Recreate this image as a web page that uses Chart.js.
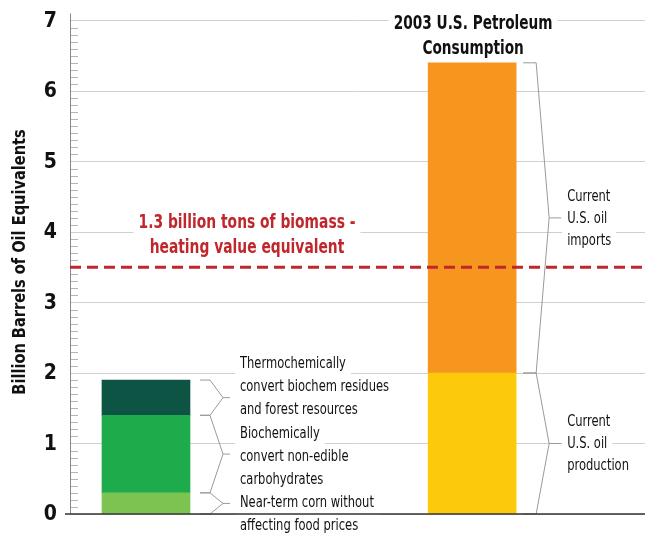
<!DOCTYPE html>
<html>
<head>
<meta charset="utf-8">
<script src="https://cdn.jsdelivr.net/npm/chart.js@4"></script>
<style>
  html, body { margin: 0; padding: 0; background: #fff; }
  #wrap { width: 649px; height: 536px; }
</style>
</head>
<body>
<div id="wrap"><canvas id="c" width="649" height="536"></canvas></div>
<script>
// ---- data ----
const categories = ['Biomass', '2003 U.S. Petroleum Consumption'];
const biomassSegments = ['Near-term corn without affecting food prices', 'Biochemically convert non-edible carbohydrates', 'Thermochemically convert biochem residues and forest resources'];
const biomassValues = [0.3, 1.1, 0.5];
const petroleumSegments = ['Current U.S. oil production', 'Current U.S. oil imports'];
const petroleumValues = [2.0, 4.4];
const yTickValues = [0, 1, 2, 3, 4, 5, 6, 7];
const biomassLineValue = 3.5;
const biomassLineLabel = ['1.3 billion tons of biomass -', 'heating value equivalent'];
const titleLines = ['2003 U.S. Petroleum', 'Consumption'];
const yAxisTitle = 'Billion Barrels of Oil Equivalents';

const biomassColors = ['#7dc352', '#1eab4b', '#0e5444'];
const petroleumColors = ['#fdca0b', '#f7961f'];

const FONT = "'Liberation Sans Narrow', 'DejaVu Sans Condensed', 'Arial Narrow', sans-serif";

const datasets = [];
biomassValues.forEach((v, i) => datasets.push({
  label: biomassSegments[i], data: [{x: 1, y: v}], backgroundColor: biomassColors[i]
}));
petroleumValues.forEach((v, i) => datasets.push({
  label: petroleumSegments[i], data: [{x: 2, y: v}], backgroundColor: petroleumColors[i]
}));

function textBox(ctx, lines, x, yCenter, lh, font, color, align, sx) {
  ctx.save();
  ctx.font = font;
  ctx.textBaseline = 'middle';
  ctx.textAlign = 'left';
  const top = yCenter - (lines.length - 1) * lh / 2;
  const items = lines.map((t, i) => {
    const w = ctx.measureText(t).width * sx;
    const x0 = align === 'center' ? x - w / 2 : (align === 'left' ? x : x - w);
    return { t, w, x0, y: top + i * lh };
  });
  ctx.fillStyle = '#fff';
  items.forEach(it => ctx.fillRect(it.x0 - 5, it.y - lh / 2, it.w + 10, lh));
  ctx.fillStyle = color;
  items.forEach(it => {
    ctx.save();
    ctx.translate(it.x0, it.y);
    ctx.scale(sx, 1);
    ctx.fillText(it.t, 0, 0);
    ctx.restore();
  });
  ctx.restore();
}

function brace(ctx, xs, xh, xt, xtick, yTop, yBot) {
  const ym = (yTop + yBot) / 2;
  ctx.beginPath();
  ctx.moveTo(xs, yTop); ctx.lineTo(xh, yTop);
  ctx.lineTo(xt, ym); ctx.lineTo(xh, yBot); ctx.lineTo(xs, yBot);
  ctx.moveTo(xt, ym); ctx.lineTo(xtick, ym);
  ctx.stroke();
}

const overlay = {
  id: 'overlay',
  afterDatasetsDraw(chart) {
    const ctx = chart.ctx;
    const y = chart.scales.y;
    const area = chart.chartArea;
    const P = v => y.getPixelForValue(v);

    // minor ticks on the y axis
    ctx.save();
    ctx.strokeStyle = '#b5b5b5';
    ctx.lineWidth = 1;
    for (let k = 0; k <= 70; k++) {
      if (k % 10 === 0) continue;
      const py = Math.round(P(k / 10)) + 0.5;
      ctx.beginPath();
      ctx.moveTo(area.left, py); ctx.lineTo(area.left + 8, py);
      ctx.stroke();
    }
    ctx.strokeStyle = '#888';
    ctx.beginPath();
    ctx.moveTo(area.left + 0.5, area.top - 7); ctx.lineTo(area.left + 0.5, area.bottom);
    ctx.stroke();
    ctx.restore();

    // y tick labels
    ctx.save();
    ctx.font = "bold 21px " + FONT;
    ctx.fillStyle = '#111';
    ctx.textAlign = 'right';
    ctx.textBaseline = 'middle';
    yTickValues.forEach(v => ctx.fillText(String(v), area.left - 13, P(v) + 1));
    ctx.restore();

    // y axis title
    ctx.save();
    ctx.translate(20, 262);
    ctx.rotate(-Math.PI / 2);
    ctx.font = "bold 18px " + FONT;
    ctx.fillStyle = '#111';
    ctx.textAlign = 'center';
    ctx.textBaseline = 'middle';
    ctx.scale(0.9, 1);
    ctx.fillText(yAxisTitle, 0, 0);
    ctx.restore();

    const leftEl = chart.getDatasetMeta(0).data[0];
    const rightEl = chart.getDatasetMeta(biomassValues.length).data[0];
    const lEdge = leftEl.x + leftEl.width / 2;
    const rEdge = rightEl.x + rightEl.width / 2;

    // braces
    ctx.save();
    ctx.strokeStyle = '#9a9a9a';
    ctx.lineWidth = 1;
    let acc = 0;
    biomassValues.forEach(v => {
      brace(ctx, lEdge + 10, lEdge + 20, lEdge + 33, lEdge + 40, P(acc + v), P(acc));
      acc += v;
    });
    acc = 0;
    petroleumValues.forEach(v => {
      brace(ctx, rEdge + 7, rEdge + 20, rEdge + 33, rEdge + 45, P(acc + v), P(acc));
      acc += v;
    });
    ctx.restore();

    // labels
    const lf = "16px " + FONT;
    const S = 0.8;
    textBox(ctx, ['Thermochemically', 'convert biochem residues', 'and forest resources'], lEdge + 50, P(1.81), 23, lf, '#111', 'left', S);
    textBox(ctx, ['Biochemically', 'convert non-edible', 'carbohydrates'], lEdge + 50, P(0.81), 23, lf, '#111', 'left', S);
    textBox(ctx, ['Near-term corn without', 'affecting food prices'], lEdge + 50, P(-0.01), 23, lf, '#111', 'left', S);
    textBox(ctx, ['Current', 'U.S. oil', 'imports'], rEdge + 51, P(4.18), 22, lf, '#111', 'left', S);
    textBox(ctx, ['Current', 'U.S. oil', 'production'], rEdge + 51, P(0.995), 22, lf, '#111', 'left', S);

    // title
    textBox(ctx, titleLines, rightEl.x + 1, P(6.77), 25, "bold 19px " + FONT, '#111', 'center', 0.8);
    // red label
    textBox(ctx, biomassLineLabel, leftEl.x + 101, P(3.95), 25, "bold 20px " + FONT, '#c0272d', 'center', 0.77);

    // dashed line
    ctx.save();
    ctx.strokeStyle = '#c0272d';
    ctx.lineWidth = 3.2;
    ctx.setLineDash([11, 6]);
    const ly = P(biomassLineValue);
    ctx.beginPath();
    ctx.moveTo(area.left, ly); ctx.lineTo(area.right, ly);
    ctx.stroke();
    ctx.restore();

    // bottom axis line
    ctx.save();
    ctx.strokeStyle = '#333';
    ctx.lineWidth = 1.5;
    ctx.beginPath();
    ctx.moveTo(area.left - 5, P(0)); ctx.lineTo(area.right, P(0));
    ctx.stroke();
    ctx.restore();
  }
};

new Chart(document.getElementById('c'), {
  type: 'bar',
  data: { datasets },
  options: {
    responsive: false,
    animation: false,
    events: [],
    layout: { padding: { top: 20.5, right: 4, bottom: 22, left: 0 } },
    plugins: { legend: { display: false }, tooltip: { enabled: false } },
    datasets: { bar: { barThickness: 88, grouped: false, borderWidth: 0 } },
    scales: {
      x: {
        type: 'linear', min: 0.767, max: 2.53, display: false, stacked: true, offset: false
      },
      y: {
        stacked: true, min: 0, max: 7,
        afterFit(s) { s.width = 70; },
        afterBuildTicks(s) { s.ticks = yTickValues.map(v => ({ value: v })); },
        ticks: { display: false },
        grid: {
          drawTicks: false, color: '#d0d0d0', lineWidth: 1
        },
        border: { display: false },
        title: { display: false }
      }
    }
  },
  plugins: [overlay]
});
</script>
</body>
</html>
